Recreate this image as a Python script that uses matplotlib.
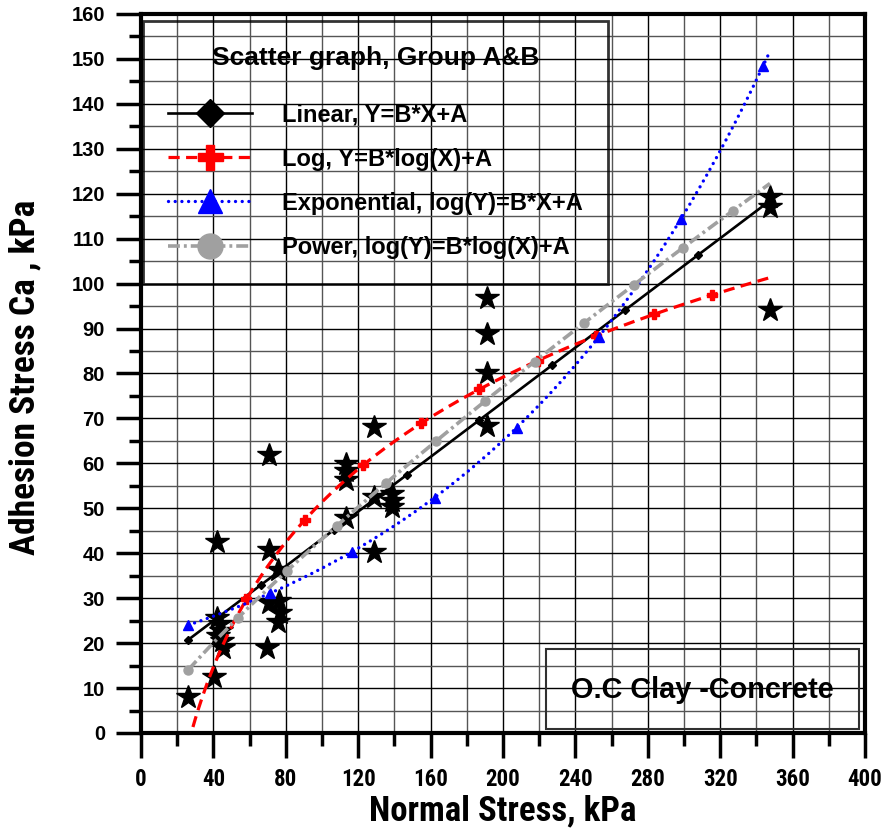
import matplotlib
matplotlib.use("Agg")
import matplotlib.pyplot as plt
import numpy as np
from matplotlib.lines import Line2D
from matplotlib.patches import Rectangle
from matplotlib.ticker import MultipleLocator

# Measured points: normal stress (kPa) vs adhesion stress Ca (kPa)
normal_stress = [26.1, 40.3, 41.8, 42.0, 43.5, 44.0, 42.5, 45.0, 45.1,
                 69.4, 70.9, 76.5, 76.8, 75.7, 75.9, 70.9, 70.9,
                 113.5, 113.5, 113.5, 113.5, 128.5, 128.5, 128.7,
                 138.5, 138.5, 138.5, 191.0, 191.0, 191.0, 191.0,
                 347.5, 347.5, 347.5]
adhesion = [8.1, 12.5, 42.6, 25.5, 24.2, 22.8, 21.5, 20.5, 18.8,
            18.8, 28.9, 29.4, 26.7, 24.8, 36.2, 40.7, 61.9,
            59.8, 58.2, 56.3, 47.8, 68.1, 52.4, 40.3,
            53.2, 51.7, 50.3, 96.7, 88.8, 80.1, 68.2,
            119.3, 117.1, 94.1]

# Fitted coefficients (B, A)
lin_B, lin_A = 0.304, 12.8        # Y = B*X + A
log_B, log_A = 92.3, -133.2       # Y = B*log(X) + A
exp_B, exp_A = 0.002492, 1.315    # log(Y) = B*X + A
pow_B, pow_A = 0.836, -0.0369     # log(Y) = B*log(X) + A

x_fit = np.linspace(min(normal_stress), max(normal_stress), 1000)
y_lin = lin_B * x_fit + lin_A
y_log = log_B * np.log10(x_fit) + log_A
y_exp = 10 ** (exp_B * x_fit + exp_A)
y_pow = 10 ** (pow_B * np.log10(x_fit) + pow_A)

plt.rcParams["font.family"] = ["Liberation Sans", "DejaVu Sans"]
plt.rcParams["font.weight"] = "bold"
narrow = ["Roboto Condensed", "Liberation Sans"]

fig = plt.figure(figsize=(8.83, 8.30), dpi=100)
ax = fig.add_axes([0.1597, 0.1169, 0.8199, 0.8663])

ax.plot(normal_stress, adhesion, linestyle="none", marker="*", ms=17.5,
        color="black", zorder=3)

# fit curves
ax.plot(x_fit, y_lin, color="black", lw=1.9, marker="D", ms=4.5,
        markevery=125, zorder=4)
ax.plot(x_fit, y_log, color="red", lw=2.3, dashes=(3.5, 2.0), marker="P",
        ms=7, markevery=100, zorder=4)
ax.plot(x_fit, y_exp, color="blue", lw=2.4, dashes=(0.01, 2.0),
        dash_capstyle="round", marker="^", ms=6.5, markevery=141, zorder=4)
ax.plot(x_fit, y_pow, color="#a0a0a0", lw=2.6, dashes=(3.3, 1.1, 0.8, 1.1),
        marker="o", ms=6.5, markevery=85, zorder=4)

ax.set_xlim(0, 400)
ax.set_ylim(0, 160)
ax.xaxis.set_major_locator(MultipleLocator(40))
ax.xaxis.set_minor_locator(MultipleLocator(20))
ax.yaxis.set_major_locator(MultipleLocator(10))
ax.yaxis.set_minor_locator(MultipleLocator(5))

ax.set_axisbelow(True)
ax.grid(which="major", color="black", lw=1.0)
ax.grid(which="minor", color="#555555", lw=1.0)

for s in ax.spines.values():
    s.set_linewidth(3)
ax.tick_params(which="major", direction="out", length=18, width=2.5)
ax.tick_params(which="minor", direction="out", length=9, width=2.5)
ax.tick_params(axis="x", pad=7)
ax.tick_params(axis="y", pad=8)

for lbl in ax.get_xticklabels():
    lbl.set_fontfamily(narrow)
    lbl.set_fontsize(16.5)
    lbl.set_fontweight("bold")
for lbl in ax.get_yticklabels():
    lbl.set_fontsize(14.5)
    lbl.set_fontweight("bold")

ax.set_xlabel("Normal Stress, kPa", family=narrow, fontsize=25,
              fontweight="bold")
ax.set_ylabel("Adhesion Stress Ca , kPa", family=narrow, fontsize=25.5,
              fontweight="bold")
ax.xaxis.set_label_coords(0.5, -0.085)
ax.yaxis.set_label_coords(-0.138, 0.495)

# legend
handles = [
    Line2D([], [], color="black", lw=1.9, marker="D", ms=14),
    Line2D([], [], color="red", lw=2.3, dashes=(3.5, 2.0), marker="P", ms=18),
    Line2D([], [], color="blue", lw=2.4, dashes=(0.01, 2.0),
           dash_capstyle="round", marker="^", ms=17),
    Line2D([], [], color="#a0a0a0", lw=2.6, dashes=(3.3, 1.1, 0.8, 1.1),
           marker="o", ms=18),
]
labels = ["Linear, Y=B*X+A", "Log, Y=B*log(X)+A",
          "Exponential, log(Y)=B*X+A", "Power, log(Y)=B*log(X)+A"]
leg = ax.legend(handles, labels, title="Scatter graph, Group A&B",
                loc="upper left", bbox_to_anchor=(0.003, 0.99),
                borderaxespad=0, fancybox=False, frameon=True,
                edgecolor="black", facecolor="none",
                prop={"size": 17, "weight": "bold"},
                title_fontproperties={"size": 19, "weight": "bold"},
                borderpad=1.05, labelspacing=0.9, handlelength=3.55,
                handletextpad=1.3)
leg._legend_box.sep = 24  # extra room under the title
leg.get_frame().set_linewidth(2.0)
leg.set_zorder(5)

# material box
ax.add_patch(Rectangle((0.5594, 0.0056), 0.4323, 0.1112,
                       transform=ax.transAxes, fill=False,
                       edgecolor="#303030", lw=1.5, zorder=5))
ax.text(0.7755, 0.0598, "O.C Clay -Concrete", transform=ax.transAxes,
        ha="center", va="center", fontsize=20.8, fontweight="bold", zorder=6)

fig.savefig("out.png", dpi=100)
